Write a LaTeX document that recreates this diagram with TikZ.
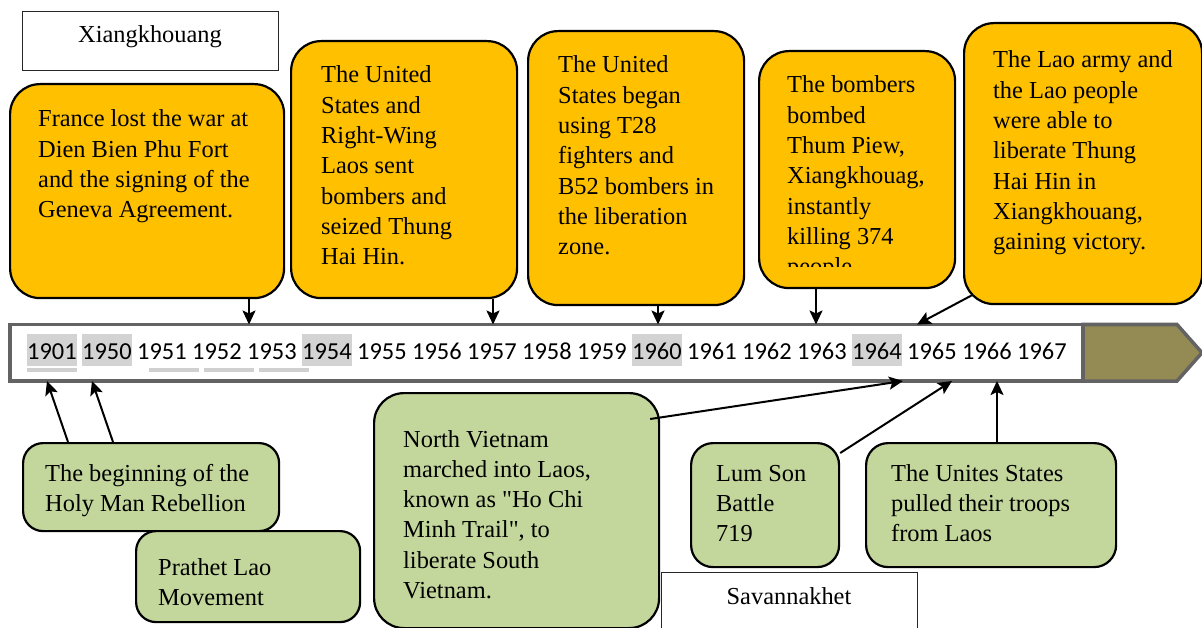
\documentclass[tikz,border=0pt]{standalone}
\usepackage{fontspec}
\setmainfont{Liberation Serif}[Ligatures=TeXOff]
\newfontfamily\serifbox{Liberation Serif}[Ligatures=TeXOff]
\newfontfamily\calibrifont{Carlito}
\usetikzlibrary{arrows.meta}
\definecolor{orangefill}{HTML}{FFC000}
\definecolor{greenfill}{HTML}{C3D69B}
\definecolor{olivefill}{HTML}{948A54}
\definecolor{barline}{HTML}{636363}
\definecolor{hlgray}{HTML}{D3D3D3}
\definecolor{ulgray}{HTML}{D0D0D0}
\newcommand{\boxfont}{\serifbox\fontsize{24.4}{30.3}\selectfont}
\newcommand{\lines}[1]{{\boxfont\begin{tabular}[t]{@{}l@{}}#1\end{tabular}}}
\begin{document}
\begin{tikzpicture}[x=1pt,y=-1pt,
  obox/.style={draw=black, line width=2.2pt, fill=orangefill, rounded corners=30pt, anchor=north west, inner sep=0pt},
  gbox/.style={draw=black, line width=2.2pt, fill=greenfill, rounded corners=20pt, anchor=north west, inner sep=0pt},
  lbox/.style={draw=black!85, line width=1.2pt, fill=white, anchor=north west, inner sep=0pt},
  txt/.style={anchor=base west, inner sep=0pt, font=\boxfont},
  ctxt/.style={anchor=base, inner sep=0pt, font=\boxfont},
  yr/.style={anchor=base west, inner sep=0pt, font=\calibrifont\fontsize{24.4}{29}\selectfont, text height=25pt, text depth=7pt},
  hl/.style={fill=hlgray},
  nohl/.style={},
  ul/.style={draw=ulgray, line width=3.5pt},
  arr/.style={draw=black, line width=2pt, -{Stealth[length=14pt,width=13pt,inset=3pt]}},
]
\useasboundingbox (0,0) rectangle (1202,628);

% location boxes
\node[lbox, minimum width=256pt, minimum height=59pt] (xbox) at (22,11) {};
\node[ctxt] (xtxt) at (150,43) {Xiangkhouang};

% timeline bar
\node[draw=barline, line width=3.5pt, fill=white, minimum width=1073pt, minimum height=56.5pt, anchor=north west, inner sep=0pt, outer sep=0pt] (bar) at (10,324.5) {};
\draw[draw=barline, line width=3.5pt, fill=olivefill] (bar.north east) -- (1177,324.5) -- (1202,352.75) -- (1177,381) -- (bar.south east) -- cycle;

% years
\foreach \yy/\st [count=\i from 0] in {1901/hl,1950/hl,1951/nohl,1952/nohl,1953/nohl,1954/hl,1955/nohl,1956/nohl,1957/nohl,1958/nohl,1959/nohl,1960/hl,1961/nohl,1962/nohl,1963/nohl,1964/hl,1965/nohl,1966/nohl,1967/nohl}
  \node[yr,\st] (y\yy) at ({27+55*\i},359) {\yy};
\draw[ul] ([yshift=-4pt]y1901.south west) -- ([yshift=-4pt]y1901.south east);
\draw[ul] ([xshift=12pt,yshift=-4pt]y1951.south west) -- ([xshift=12pt,yshift=-4pt]y1951.south east);
\draw[ul] ([xshift=12pt,yshift=-4pt]y1952.south west) -- ([xshift=12pt,yshift=-4pt]y1952.south east);
\draw[ul] ([xshift=12pt,yshift=-4pt]y1953.south west) -- ([xshift=12pt,yshift=-4pt]y1953.south east);

% orange boxes
\node[obox, minimum width=274pt, minimum height=214pt] (b1) at (9,83) {};
\node[txt] (t1) at (38,127) {\lines{France lost the war at\\Dien Bien Phu Fort\\and the signing of the\\Geneva Agreement.}};
\node[obox, minimum width=226pt, minimum height=257pt] (b2) at (290,40) {};
\node[txt] (t2) at (321,83) {\lines{The United\\States and\\Right-Wing\\Laos sent\\bombers and\\seized Thung\\Hai Hin.}};
\node[obox, minimum width=216pt, minimum height=274pt] (b3) at (527,30) {};
\node[txt] (t3) at (558,73) {\lines{The United\\States began\\using T28\\fighters and\\B52 bombers in\\the liberation\\zone.}};
\node[obox, minimum width=196pt, minimum height=237pt] (b4) at (758,50) {};
\begin{scope}
  \clip (758,50) rectangle (954,267);
  \node[txt] (t4) at (787,93) {\lines{The bombers\\bombed\\Thum Piew,\\Xiangkhouag,\\instantly\\killing 374\\people}};
\end{scope}
\node[obox, minimum width=238pt, minimum height=281pt] (b5) at (963,22) {};
\node[txt] (t5) at (993,68) {\lines{The Lao army and\\the Lao people\\were able to\\liberate Thung\\Hai Hin in\\Xiangkhouang,\\gaining victory.}};

% green boxes
\node[gbox, minimum width=256pt, minimum height=88pt] (hm) at (22,442) {};
\node[txt] (thm) at (45,481) {\lines{The beginning of the\\Holy Man Rebellion}};
\node[gbox, minimum width=224pt, minimum height=91pt] (pl) at (135,530) {};
\node[txt] (tpl) at (158,575) {\lines{Prathet Lao\\Movement}};
\node[gbox, rounded corners=30pt, minimum width=285pt, minimum height=235pt] (nv) at (373,392) {};
\node[txt] (tnv) at (403,447) {\lines{North Vietnam\\marched into Laos,\\known as "Ho Chi\\Minh Trail", to\\liberate South\\Vietnam.}};
\node[gbox, rounded corners=22pt, minimum width=148pt, minimum height=124pt] (ls) at (690,442) {};
\node[txt] (tls) at (716,481) {\lines{Lum Son\\Battle\\719}};
\node[gbox, rounded corners=22pt, minimum width=250pt, minimum height=124pt] (us) at (865,442) {};
\node[txt] (tus) at (891,481) {\lines{The Unites States\\pulled their troops\\from Laos}};

\node[lbox, minimum width=256pt, minimum height=70pt] (sbox) at (661,572) {};
\node[ctxt] (stxt) at (789,604) {Savannakhet};

% arrow x positions
\coordinate (a1) at (249,0);
\coordinate (a2) at (493,0);
\coordinate (a3) at (658,0);
\coordinate (a4) at (816,0);
\coordinate (a5) at (917,0);
\coordinate (s1) at (68,0);
\coordinate (s2) at (113,0);
\coordinate (h1) at (47,0);
\coordinate (h2) at (92,0);
\coordinate (h3) at (903,0);
\coordinate (h4) at (952,0);
\coordinate (h5) at (997,0);

% arrows from top boxes
\draw[arr] (b1.south -| a1) -- (bar.north -| a1);
\draw[arr] (b2.south -| a2) -- (bar.north -| a2);
\draw[arr] (b3.south -| a3) -- (bar.north -| a3);
\draw[arr] (b4.south -| a4) -- (bar.north -| a4);
\draw[arr] ([shift={(9,-10)}]b5.south west) -- (bar.north -| a5);

% arrows from bottom boxes
\draw[arr] (hm.north -| s1) -- (bar.south -| h1);
\draw[arr] (hm.north -| s2) -- (bar.south -| h2);
\draw[arr] ([shift={(-10,27)}]nv.north east) -- (bar.south -| h3);
\draw[arr] ([shift={(0,11)}]ls.north east) -- (bar.south -| h4);
\draw[arr] (us.north -| h5) -- (bar.south -| h5);
\end{tikzpicture}
\end{document}
